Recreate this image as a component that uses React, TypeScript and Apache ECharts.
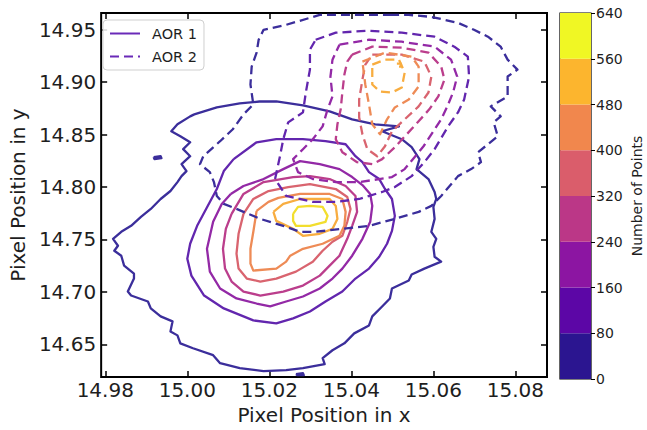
import React, { useEffect, useRef } from "react";
import * as echarts from "echarts";

type P = [number, number];

const xTicks = [14.98, 15.0, 15.02, 15.04, 15.06, 15.08];
const yTicks = [14.65, 14.7, 14.75, 14.8, 14.85, 14.9, 14.95];
const cbLevels = [0, 80, 160, 240, 320, 400, 480, 560, 640];

// AOR 1 contours (solid)
const aor1L0: P[] = [
  [15.0017, 14.8693], [15.0072, 14.8759], [15.0128, 14.8797], [15.0176, 14.8816], [15.0217, 14.8816],
  [15.0282, 14.8778], [15.0347, 14.8722], [15.0402, 14.8646], [15.0458, 14.8598], [15.0516, 14.8579],
  [15.0475, 14.8532], [15.0523, 14.8456], [15.0547, 14.838], [15.0566, 14.8266], [15.0559, 14.8171],
  [15.0588, 14.8076], [15.0603, 14.7953], [15.0607, 14.7886], [15.06, 14.781], [15.0603, 14.7696],
  [15.0595, 14.7573], [15.0607, 14.7506], [15.06, 14.743], [15.0603, 14.7335], [15.0619, 14.7288],
  [15.0578, 14.7222], [15.0547, 14.7165], [15.054, 14.7108], [15.0499, 14.7032], [15.0494, 14.6937],
  [15.0475, 14.6861], [15.0451, 14.6766], [15.0443, 14.668], [15.0407, 14.6604], [15.0383, 14.6509],
  [15.0354, 14.6443], [15.033, 14.6367], [15.0335, 14.631], [15.0282, 14.6272], [15.0241, 14.6253],
  [15.0186, 14.6244], [15.0128, 14.6272], [15.008, 14.632], [15.0063, 14.6396], [15.0014, 14.6462],
  [14.9983, 14.6509], [14.9976, 14.6585], [14.9959, 14.6623], [14.9964, 14.6718], [14.9935, 14.6766],
  [14.9911, 14.6842], [14.9904, 14.6908], [14.9863, 14.6965], [14.9855, 14.7003], [14.987, 14.7127],
  [14.987, 14.7174], [14.9846, 14.725], [14.9839, 14.7345], [14.9822, 14.7392], [14.9831, 14.744],
  [14.9819, 14.7506], [14.9839, 14.7573], [14.9863, 14.763], [14.9887, 14.7715], [14.9911, 14.7791],
  [14.9935, 14.7886], [14.9959, 14.7962], [14.9976, 14.8047], [14.9986, 14.8104], [14.9998, 14.8152],
  [14.9986, 14.8218], [15.0007, 14.8294], [14.999, 14.8361], [15.0007, 14.8427], [14.9983, 14.8484],
  [14.9961, 14.8532], [14.9976, 14.8598], [15.0007, 14.8674], [15.0017, 14.8693],
];
const aor1Blob1: P[] = [[14.9918, 14.8285], [14.9935, 14.8294], [14.9937, 14.8275], [14.992, 14.8266], [14.9918, 14.8285]];
const aor1Blob2: P[] = [[15.0265, 14.6215], [15.0282, 14.6225], [15.0284, 14.6206], [15.0268, 14.6206], [15.0265, 14.6215]];
const aor1L80: P[] = [
  [15.0113, 14.8266], [15.0169, 14.8427], [15.0217, 14.8456], [15.0282, 14.8456], [15.0337, 14.8437],
  [15.0386, 14.8408], [15.041, 14.8294], [15.0427, 14.8237], [15.0443, 14.8142], [15.0468, 14.8076],
  [15.0482, 14.7981], [15.0499, 14.7886], [15.0506, 14.7725], [15.0499, 14.7582], [15.0487, 14.7459],
  [15.0468, 14.7335], [15.0443, 14.7222], [15.041, 14.7127], [15.0378, 14.7003], [15.0337, 14.6908],
  [15.0299, 14.6813], [15.0258, 14.6747], [15.0217, 14.6699], [15.0161, 14.6728], [15.0089, 14.6842],
  [15.0041, 14.6965], [15.001, 14.7155], [15.0, 14.7316], [15.0007, 14.7459], [15.0024, 14.763],
  [15.0055, 14.7858], [15.0072, 14.7981], [15.0089, 14.8152], [15.0113, 14.8266],
];
const aor1L160: P[] = [
  [15.0106, 14.7934], [15.0137, 14.801], [15.0186, 14.8076], [15.0234, 14.8171], [15.0275, 14.8247],
  [15.0323, 14.8218], [15.0371, 14.8171], [15.0402, 14.8095], [15.0427, 14.8019], [15.0446, 14.7934],
  [15.0451, 14.782], [15.0446, 14.7668], [15.0427, 14.7506], [15.0402, 14.7345], [15.0378, 14.7222],
  [15.0354, 14.7127], [15.0323, 14.7032], [15.0282, 14.6956], [15.0241, 14.6908], [15.0202, 14.6861],
  [15.0169, 14.6889], [15.012, 14.6937], [15.008, 14.7032], [15.0055, 14.7193], [15.0048, 14.7411],
  [15.0063, 14.7668], [15.0084, 14.7839], [15.0106, 14.7934],
];
const aor1L240: P[] = [
  [15.0108, 14.7744], [15.0137, 14.7934], [15.0186, 14.8047], [15.0258, 14.8095], [15.0299, 14.8104],
  [15.0347, 14.8076], [15.0386, 14.801], [15.041, 14.7915], [15.0414, 14.7763], [15.0402, 14.763],
  [15.039, 14.7506], [15.0371, 14.7345], [15.0347, 14.725], [15.0323, 14.7155], [15.0282, 14.706],
  [15.0234, 14.7003], [15.0178, 14.6965], [15.0137, 14.7003], [15.0108, 14.7098], [15.0092, 14.7222],
  [15.0087, 14.7411], [15.0094, 14.7601], [15.0108, 14.7744],
];
const aor1L320: P[] = [
  [15.0137, 14.7744], [15.0161, 14.7886], [15.0198, 14.7962], [15.0246, 14.8], [15.0299, 14.8028],
  [15.0362, 14.7981], [15.039, 14.7905], [15.0398, 14.7791], [15.039, 14.7668], [15.0378, 14.7535],
  [15.0354, 14.7478], [15.033, 14.7392], [15.0306, 14.7288], [15.0265, 14.7193], [15.0217, 14.7127],
  [15.0178, 14.7098], [15.0145, 14.7127], [15.0125, 14.7222], [15.012, 14.7364], [15.0125, 14.7554],
  [15.0137, 14.7744],
];
const aor1L400: P[] = [
  [15.0169, 14.7772], [15.0198, 14.7858], [15.0222, 14.7896], [15.0275, 14.7934], [15.0347, 14.7934],
  [15.0378, 14.7886], [15.0386, 14.7763], [15.0383, 14.763], [15.0371, 14.7535], [15.033, 14.7459],
  [15.0282, 14.7411], [15.0251, 14.7345], [15.0241, 14.7288], [15.0217, 14.7222], [15.0161, 14.7203],
  [15.0154, 14.7269], [15.0154, 14.7411], [15.0161, 14.7573], [15.0169, 14.7772],
];
const aor1L480: P[] = [
  [15.021, 14.7763], [15.0234, 14.7839], [15.0275, 14.7886], [15.0347, 14.7886], [15.0362, 14.782],
  [15.0366, 14.7696], [15.0354, 14.7601], [15.0323, 14.7554], [15.0282, 14.7535], [15.0258, 14.7601],
  [15.0217, 14.7677], [15.021, 14.7763],
];
const aor1L560: P[] = [
  [15.0258, 14.7744], [15.027, 14.781], [15.0299, 14.782], [15.033, 14.781], [15.0342, 14.7725],
  [15.0337, 14.7668], [15.0299, 14.763], [15.0265, 14.763], [15.0258, 14.7677], [15.0258, 14.7744],
];

// AOR 2 contours (dashed)
const aor2L0: P[] = [
  [15.0499, 14.9642], [15.0443, 14.9642], [15.0323, 14.9642], [15.0241, 14.9547], [15.0186, 14.95],
  [15.0174, 14.9405], [15.0169, 14.9282], [15.0157, 14.9149], [15.0154, 14.8978], [15.0161, 14.8788],
  [15.0137, 14.8693], [15.0111, 14.8551], [15.008, 14.8437], [15.0039, 14.8294], [15.0031, 14.8218],
  [15.0055, 14.8142], [15.0065, 14.8047], [15.0072, 14.7915], [15.0089, 14.7839], [15.012, 14.7791],
  [15.0178, 14.7696], [15.0234, 14.763], [15.0275, 14.7573], [15.0313, 14.7573], [15.0378, 14.7601],
  [15.0443, 14.763], [15.0506, 14.7696], [15.0564, 14.7763], [15.0595, 14.782], [15.0619, 14.7915],
  [15.066, 14.8104], [15.0692, 14.8171], [15.0716, 14.8237], [15.0709, 14.8332], [15.0757, 14.8484],
  [15.0747, 14.8617], [15.0764, 14.8674], [15.074, 14.8769], [15.0781, 14.8864], [15.0781, 14.9054],
  [15.0805, 14.912], [15.0781, 14.9215], [15.0764, 14.9339], [15.0733, 14.9434], [15.0699, 14.95],
  [15.066, 14.9566], [15.0595, 14.9623], [15.054, 14.9642], [15.0499, 14.9642],
];
const aor2L80: P[] = [
  [15.0313, 14.9405], [15.0362, 14.9472], [15.0443, 14.9491], [15.0523, 14.9472], [15.0603, 14.9434],
  [15.0651, 14.9339], [15.0684, 14.9244], [15.0687, 14.9054], [15.0675, 14.8835], [15.066, 14.8712],
  [15.0636, 14.8579], [15.0603, 14.8361], [15.0578, 14.8237], [15.0547, 14.8104], [15.0506, 14.8],
  [15.0475, 14.7953], [15.0419, 14.7886], [15.0362, 14.7858], [15.0306, 14.7858], [15.0241, 14.7915],
  [15.0214, 14.8076], [15.0226, 14.8294], [15.0234, 14.8456], [15.0246, 14.8617], [15.0282, 14.8712],
  [15.0289, 14.8902], [15.0299, 14.912], [15.0299, 14.931], [15.0313, 14.9405],
];
const aor2L160: P[] = [
  [15.0371, 14.9358], [15.0443, 14.9405], [15.0523, 14.9386], [15.0603, 14.9339], [15.0643, 14.9215],
  [15.0658, 14.9054], [15.0648, 14.8902], [15.0634, 14.8769], [15.0619, 14.8646], [15.06, 14.8532],
  [15.0576, 14.8389], [15.0554, 14.8285], [15.053, 14.8171], [15.0499, 14.8095], [15.0468, 14.8076],
  [15.0419, 14.8047], [15.0362, 14.8047], [15.0306, 14.8076], [15.027, 14.8142], [15.0258, 14.8266],
  [15.0282, 14.8361], [15.0306, 14.8456], [15.033, 14.8579], [15.0342, 14.8741], [15.0354, 14.8864],
  [15.0349, 14.9054], [15.0354, 14.9215], [15.0371, 14.9358],
];
const aor2L240: P[] = [
  [15.0402, 14.9263], [15.0451, 14.9339], [15.0523, 14.9329], [15.0588, 14.9282], [15.0619, 14.9149],
  [15.0627, 14.9025], [15.0612, 14.8864], [15.059, 14.8741], [15.0564, 14.8627], [15.0535, 14.8503],
  [15.0506, 14.838], [15.0475, 14.8266], [15.0451, 14.8218], [15.0414, 14.8237], [15.0378, 14.8332],
  [15.0362, 14.8456], [15.0366, 14.8598], [15.0374, 14.8741], [15.0378, 14.8902], [15.0383, 14.9073],
  [15.039, 14.9196], [15.0402, 14.9263],
];
const aor2L320: P[] = [
  [15.0451, 14.9263], [15.0523, 14.9263], [15.0578, 14.9196], [15.0595, 14.9054], [15.0588, 14.8902],
  [15.0564, 14.8769], [15.053, 14.8646], [15.0499, 14.8532], [15.0482, 14.8389], [15.0463, 14.8294],
  [15.0439, 14.8361], [15.0427, 14.8503], [15.0419, 14.8665], [15.0419, 14.8835], [15.0427, 14.9025],
  [15.0434, 14.9168], [15.0451, 14.9263],
];
const aor2L400: P[] = [
  [15.0427, 14.9196], [15.0482, 14.9282], [15.0547, 14.9244], [15.0564, 14.9149], [15.0564, 14.8959],
  [15.054, 14.8835], [15.0506, 14.8759], [15.0487, 14.8646], [15.047, 14.8503], [15.0451, 14.8598],
  [15.0443, 14.8788], [15.0434, 14.8978], [15.0427, 14.9196],
];
const aor2L480: P[] = [
  [15.0451, 14.9168], [15.0482, 14.9215], [15.0516, 14.9215], [15.053, 14.9092], [15.0523, 14.8949],
  [15.0499, 14.8902], [15.047, 14.8911], [15.0451, 14.8978], [15.0451, 14.9168],
];
const aor2L560: P[] = [
  [15.0511, 14.9177], [15.0521, 14.9177], [15.0521, 14.9149], [15.0511, 14.9149], [15.0511, 14.9177],
];

const levelColors = ["#3b2e9b", "#6226ae", "#9329a6", "#bb3e8c", "#d9646f", "#ee8b56", "#f8ad40", "#f2de2e"];
const bandColors = ["#2b1590", "#5c06a6", "#8c15a2", "#bb3787", "#da5d6b", "#f1874d", "#fcb52e", "#f0f724"];
const legendColor = "#6a2ab8";

const aor1Contours: [P[], number][] = [
  [aor1L0, 0], [aor1Blob1, 0], [aor1Blob2, 0], [aor1L80, 1], [aor1L160, 2], [aor1L240, 3],
  [aor1L320, 4], [aor1L400, 5], [aor1L480, 6], [aor1L560, 7],
];
const aor2Contours: [P[], number][] = [
  [aor2L0, 0], [aor2L80, 1], [aor2L160, 2], [aor2L240, 3], [aor2L320, 4], [aor2L400, 5],
  [aor2L480, 6], [aor2L560, 6],
];

const FONT = "DejaVu Sans";
const TXT = "#1e1e1e";
const DASH = [9, 5];

export default function App() {
  const ref = useRef<HTMLDivElement>(null);
  useEffect(() => {
    if (!ref.current) return;
    const chart = echarts.init(ref.current, null, { renderer: "svg" });

    const contourSeries: any[] = [];
    aor1Contours.forEach(([pts, li], i) => {
      contourSeries.push({
        name: "aor1-" + i, type: "line", xAxisIndex: 0, yAxisIndex: 0, data: pts,
        symbol: "none", showSymbol: false, silent: true, clip: true, z: 3,
        lineStyle: { color: levelColors[li], width: 2.3, type: "solid", join: "round" },
      });
    });
    aor2Contours.forEach(([pts, li], i) => {
      contourSeries.push({
        name: "aor2-" + i, type: "line", xAxisIndex: 0, yAxisIndex: 0, data: pts,
        symbol: "none", showSymbol: false, silent: true, clip: true, z: 3,
        lineStyle: { color: levelColors[li], width: 2.3, type: DASH, join: "round" },
      });
    });

    const legendSeries = [
      { name: "AOR 1", type: "line", xAxisIndex: 0, yAxisIndex: 0, data: [], symbol: "none",
        lineStyle: { color: legendColor, width: 2.4, type: "solid" }, itemStyle: { color: legendColor } },
      { name: "AOR 2", type: "line", xAxisIndex: 0, yAxisIndex: 0, data: [], symbol: "none",
        lineStyle: { color: legendColor, width: 2.4, type: DASH }, itemStyle: { color: legendColor } },
    ];

    const cbSeries = bandColors.map((c, i) => ({
      name: "cb" + i, type: "bar", xAxisIndex: 2, yAxisIndex: 2, stack: "cb",
      data: [cbLevels[i + 1] - cbLevels[i]], barWidth: "100%", silent: true,
      itemStyle: { color: c },
    }));

    const tickStyle = { lineStyle: { color: "#000", width: 1.5 } };

    chart.setOption({
      animation: false,
      textStyle: { fontFamily: FONT },
      grid: [
        { left: 96, top: 13, width: 451, height: 366, show: true, borderColor: "#000", borderWidth: 2,
          backgroundColor: "transparent", containLabel: false },
        { left: 560, top: 13, width: 31, height: 366, show: true, borderColor: "#000", borderWidth: 1.2,
          backgroundColor: "transparent", containLabel: false },
      ],
      legend: {
        data: ["AOR 1", "AOR 2"], orient: "vertical", left: 103, top: 20,
        itemWidth: 30, itemHeight: 14, itemGap: 8, padding: [6, 7, 6, 6],
        backgroundColor: "rgba(255,255,255,0.85)", borderColor: "#cfcfcf", borderWidth: 1, borderRadius: 4,
        itemStyle: { opacity: 0 },
        textStyle: { fontFamily: FONT, fontSize: 14.5, color: TXT, padding: [0, 0, 0, 7] },
        selectedMode: false,
      },
      xAxis: [
        { type: "value", gridIndex: 0, min: 14.979, max: 15.0877, position: "bottom",
          axisLine: { show: false }, splitLine: { show: false },
          axisTick: { show: true, inside: true, length: 6, customValues: xTicks, ...tickStyle },
          axisLabel: { customValues: xTicks, formatter: (v: number) => v.toFixed(2), fontSize: 20,
            color: TXT, margin: 3, fontFamily: FONT },
          name: "Pixel Position in x", nameLocation: "middle", nameGap: 25,
          nameTextStyle: { fontSize: 20, color: TXT, fontFamily: FONT } },
        { type: "value", gridIndex: 0, min: 14.979, max: 15.0877, position: "top",
          axisLine: { show: false }, splitLine: { show: false },
          axisTick: { show: true, inside: true, length: 6, customValues: xTicks, ...tickStyle },
          axisLabel: { show: false, customValues: xTicks } },
        { type: "category", gridIndex: 1, data: ["c"], show: false },
      ],
      yAxis: [
        { type: "value", gridIndex: 0, min: 14.6187, max: 14.966, position: "left",
          axisLine: { show: false }, splitLine: { show: false },
          axisTick: { show: true, inside: true, length: 6, customValues: yTicks, ...tickStyle },
          axisLabel: { customValues: yTicks, formatter: (v: number) => v.toFixed(2), fontSize: 20,
            color: TXT, margin: 5, fontFamily: FONT },
          name: "Pixel Position in y", nameLocation: "middle", nameGap: 64,
          nameTextStyle: { fontSize: 20, color: TXT, fontFamily: FONT } },
        { type: "value", gridIndex: 0, min: 14.6187, max: 14.966, position: "right",
          axisLine: { show: false }, splitLine: { show: false },
          axisTick: { show: true, inside: true, length: 6, customValues: yTicks, ...tickStyle },
          axisLabel: { show: false, customValues: yTicks } },
        { type: "value", gridIndex: 1, min: 0, max: 640, interval: 80, position: "right",
          axisLine: { show: false }, splitLine: { show: false },
          axisTick: { show: true, inside: false, length: 4, lineStyle: { color: "#000", width: 1 } },
          axisLabel: { fontSize: 14, color: TXT, margin: 5, fontFamily: FONT },
          name: "Number of Points", nameLocation: "middle", nameRotate: 90, nameGap: 39,
          nameTextStyle: { fontSize: 14, color: TXT, fontFamily: FONT } },
      ],
      series: [...cbSeries, ...contourSeries, ...legendSeries],
    });
    return () => chart.dispose();
  }, []);
  return (
    <div
      ref={ref}
      style={{ position: "fixed", left: 0, top: 0, width: 647, height: 430, background: "#fff" }}
    />
  );
}
